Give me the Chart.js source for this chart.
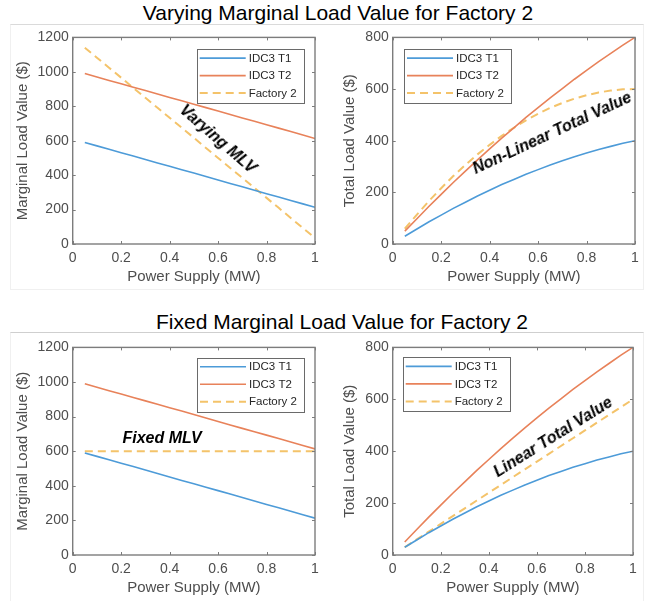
<!DOCTYPE html>
<html><head><meta charset="utf-8">
<script src="https://cdn.jsdelivr.net/npm/chart.js@4"></script>
<style>
html,body{margin:0;padding:0;background:#fff;}
#page{position:relative;width:649px;height:601px;overflow:hidden;font-family:"Liberation Sans",Arial,sans-serif;background:#fff;}
.frame{position:absolute;box-sizing:border-box;border:1px solid #f0f0f0;}
.title{position:absolute;font-size:21px;line-height:24px;color:#000;white-space:nowrap;transform:translateX(-50%);}
.note{position:absolute;font-weight:bold;font-style:italic;font-size:16px;line-height:18px;white-space:nowrap;color:#000;}
canvas{position:absolute;}
</style></head>
<body>
<div id="page">
  <div class="frame" style="left:10px;top:24px;width:634px;height:266px;border-top-color:#dadada;"></div>
  <div class="frame" style="left:10px;top:332px;width:634px;height:280px;border-top-color:#cfcfcf;"></div>
  <div class="title" style="left:338px;top:1px;">Varying Marginal Load Value for Factory 2</div>
  <div class="title" style="left:342px;top:310px;">Fixed Marginal Load Value for Factory 2</div>
  <canvas id="c1" width="325" height="263" style="left:0px;top:25px;"></canvas>
  <canvas id="c2" width="324" height="263" style="left:325px;top:25px;"></canvas>
  <canvas id="c3" width="325" height="264" style="left:0px;top:335px;"></canvas>
  <canvas id="c4" width="324" height="264" style="left:325px;top:335px;"></canvas>
  <div class="note" style="left:218px;top:139px;transform:translate(-50%,-50%) rotate(41deg);">Varying MLV</div>
  <div class="note" style="left:552px;top:133px;transform:translate(-50%,-50%) rotate(-25deg);">Non-Linear Total Value</div>
  <div class="note" style="left:162px;top:438px;transform:translate(-50%,-50%);">Fixed MLV</div>
  <div class="note" style="left:553px;top:437px;transform:translate(-50%,-50%) rotate(-32deg);">Linear Total Value</div>
</div>
<script>
// ---- data ----
const powerSupply = [0.05,0.10,0.15,0.20,0.25,0.30,0.35,0.40,0.45,0.50,0.55,0.60,0.65,0.70,0.75,0.80,0.85,0.90,0.95,1.00];
const t1Marginal = [590,570,550,530,511,491,471,451,431,412,392,372,352,332,312,292,273,253,233,213];
const t2Marginal = [990,970,950,931,911,891,871,851,832,812,792,772,752,732,713,693,673,653,633,613];
const f2MarginalVarying = [1140,1082,1024,966,907,849,791,733,675,617,558,500,442,384,326,268,210,151,93,35];
const f2MarginalFixed = [600,600,600,600,600,600,600,600,600,600,600,600,600,600,600,600,600,600,600,600];
const t1Total = [30,58,86,112,138,162,186,208,230,250,270,288,306,322,338,352,366,378,390,400];
const t2Total = [50,98,146,192,238,282,326,368,410,450,490,528,566,602,638,672,706,738,770,800];
const f2TotalVarying = [59,114,167,216,263,306,347,384,419,450,479,504,527,546,563,576,587,594,599,600];
const f2TotalFixed = [30,60,90,120,150,180,210,240,270,300,330,360,390,420,450,480,510,540,570,600];
const seriesLabels = ['IDC3 T1','IDC3 T2','Factory 2'];
const xTicks = [0,0.2,0.4,0.6,0.8,1];
const yTicksMLV = [0,200,400,600,800,1000,1200];
const yTicksTLV = [0,200,400,600,800];

const FONT = '"Liberation Sans", Arial, sans-serif';
const COLORS = ['#4d9bd8','#e8825a','#f4c36a'];
const TXT = '#4e4e4e';

function pts(ys){ return powerSupply.map((x,i)=>({x:x, y:ys[i]})); }
function ds(i, ys){
  return {label: seriesLabels[i], data: pts(ys), borderColor: COLORS[i],
    borderWidth: i===2 ? 2 : 1.6, borderDash: i===2 ? [8,5] : [],
    pointRadius: 0, tension: 0, fill: false};
}

const boxPlugin = {
  id: 'matlabBox',
  afterDatasetsDraw(chart, args, opts){
    const {ctx, chartArea:a, scales:{x, y}} = chart;
    ctx.save();
    ctx.strokeStyle = '#7c7c7c';
    ctx.lineWidth = 1;
    ctx.beginPath();
    x.ticks.forEach(t=>{
      const px = Math.round(x.getPixelForValue(t.value)) + 0.5;
      ctx.moveTo(px, a.bottom); ctx.lineTo(px, a.bottom - 3);
      ctx.moveTo(px, a.top); ctx.lineTo(px, a.top + 3);
    });
    y.ticks.forEach(t=>{
      const py = Math.round(y.getPixelForValue(t.value)) + 0.5;
      ctx.moveTo(a.left, py); ctx.lineTo(a.left + 3, py);
      ctx.moveTo(a.right, py); ctx.lineTo(a.right - 3, py);
    });
    ctx.stroke();
    ctx.lineWidth = 1.4;
    ctx.strokeRect(a.left, a.top, a.right - a.left, a.bottom - a.top);
    // legend
    const L = opts.legend;
    const bx = a.left + L.dx, by = a.top + L.dy, bw = 107, bh = 54;
    ctx.fillStyle = '#fff';
    ctx.fillRect(bx, by, bw, bh);
    ctx.strokeStyle = '#6a6a6a';
    ctx.lineWidth = 1;
    ctx.strokeRect(Math.round(bx)+0.5, Math.round(by)+0.5, bw, bh);
    const rows = [9, 26.5, 44];
    chart.data.datasets.forEach((d, i)=>{
      const ry = by + rows[i];
      ctx.beginPath();
      ctx.strokeStyle = d.borderColor;
      ctx.lineWidth = d.borderWidth;
      ctx.setLineDash(d.borderDash);
      ctx.moveTo(bx + 3, ry); ctx.lineTo(bx + 49, ry);
      ctx.stroke();
      ctx.setLineDash([]);
      ctx.fillStyle = '#262626';
      ctx.font = '11.5px ' + FONT;
      ctx.textBaseline = 'middle';
      ctx.textAlign = 'left';
      ctx.fillText(d.label, bx + 52, ry + 0.5);
    });
    ctx.restore();
  }
};

function makeChart(id, c){
  return new Chart(document.getElementById(id), {
    type: 'line',
    data: {datasets: c.datasets},
    plugins: [boxPlugin],
    options: {
      responsive: false, animation: false,
      layout: {padding: {top: c.padTop, right: c.padRight, left: 0, bottom: 0}},
      plugins: {legend: {display: false}, tooltip: {enabled: false},
        matlabBox: {legend: c.legend}},
      scales: {
        x: {type: 'linear', min: 0, max: 1,
          afterBuildTicks: s => { s.ticks = xTicks.map(v => ({value: v})); },
          ticks: {padding: 6, color: TXT, font: {size: 14, family: FONT}, maxRotation: 0, autoSkip: false,
            callback: v => String(v)},
          grid: {display: false, drawTicks: false}, border: {display: false},
          title: {display: true, text: 'Power Supply (MW)', color: TXT, font: {size: 15, family: FONT},
            padding: {top: 0, bottom: c.xTitlePad}},
          afterFit: s => { s.height = 44; }
        },
        y: {type: 'linear', min: 0, max: c.yTicks[c.yTicks.length-1],
          afterBuildTicks: s => { s.ticks = c.yTicks.map(v => ({value: v})); },
          ticks: {padding: 4, color: TXT, font: {size: 14, family: FONT}, autoSkip: false,
            callback: v => String(v)},
          grid: {display: false, drawTicks: false}, border: {display: false},
          title: {display: true, text: c.yTitle, color: TXT, font: {size: 15, family: FONT},
            padding: {top: c.yTitlePad, bottom: 0}},
          afterFit: s => { s.width = c.yWidth; }
        }
      }
    }
  });
}

makeChart('c1', {
  datasets: [ds(0, t1Marginal), ds(1, t2Marginal), ds(2, f2MarginalVarying)],
  padTop: 9, padRight: 10, yWidth: 72.7, xTitlePad: 2.3, yTitlePad: 14,
  yTicks: yTicksMLV, yTitle: 'Marginal Load Value ($)', legend: {dx: 124, dy: 11.7}
});
makeChart('c2', {
  datasets: [ds(0, t1Total), ds(1, t2Total), ds(2, f2TotalVarying)],
  padTop: 9, padRight: 14, yWidth: 67.7, xTitlePad: 2.3, yTitlePad: 16,
  yTicks: yTicksTLV, yTitle: 'Total Load Value ($)', legend: {dx: 11.3, dy: 11.7}
});
makeChart('c3', {
  datasets: [ds(0, t1Marginal), ds(1, t2Marginal), ds(2, f2MarginalFixed)],
  padTop: 10.7, padRight: 10, yWidth: 72.7, xTitlePad: 1.7, yTitlePad: 14,
  yTicks: yTicksMLV, yTitle: 'Marginal Load Value ($)', legend: {dx: 124.3, dy: 10.3}
});
makeChart('c4', {
  datasets: [ds(0, t1Total), ds(1, t2Total), ds(2, f2TotalFixed)],
  padTop: 10.7, padRight: 16, yWidth: 67.7, xTitlePad: 1.7, yTitlePad: 16,
  yTicks: yTicksTLV, yTitle: 'Total Load Value ($)', legend: {dx: 10, dy: 10}
});
</script>
</body></html>
